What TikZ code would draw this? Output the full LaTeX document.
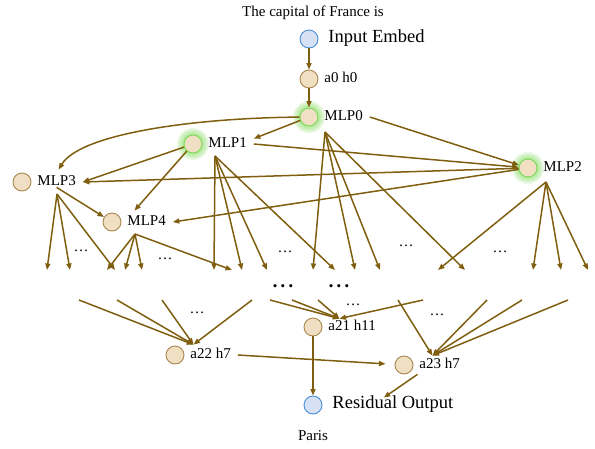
\documentclass[tikz,border=0pt]{standalone}
\usepackage{fontspec}
\setmainfont{Liberation Serif}
\usetikzlibrary{arrows.meta,calc,positioning}
\definecolor{edgebrown}{HTML}{7F5F0F}
\definecolor{unitfill}{HTML}{F1DFC4}
\definecolor{unitline}{HTML}{A8884F}
\definecolor{iofill}{HTML}{D6E1F5}
\definecolor{ioline}{HTML}{4A8FD6}
\definecolor{glowgreen}{HTML}{7ED957}
\pgfdeclarelayer{background}
\pgfsetlayers{background,main}
\tikzset{
  unit/.style={circle,draw=unitline,fill=unitfill,line width=0.9pt,minimum size=18pt,inner sep=0pt},
  iounit/.style={unit,draw=ioline,fill=iofill},
  hot/.style={unit,draw=glowgreen},
  lbl/.style={inner xsep=0pt,inner ysep=2pt,outer xsep=7pt,outer ysep=0pt,
    text height=0.68em,text depth=0pt,font=\fontsize{15}{18}\selectfont},
  biglbl/.style={lbl,font=\fontsize{18.5}{22}\selectfont},
  txt/.style={font=\fontsize{15}{18}\selectfont},
  dots/.style={font=\fontsize{15}{18}\selectfont,inner sep=0pt},
  bdots/.style={font=\fontsize{13}{16}\selectfont,inner sep=0pt},
  edge/.style={draw=edgebrown,line width=1.5pt,-{Triangle[length=6.5pt,width=5pt]}},
}

\begin{document}
\begin{tikzpicture}[x=1pt,y=-1pt]
  \useasboundingbox (0,0) rectangle (595,448);
  % Prompt and input
  \node[txt] (prompt) at (313,13) {The capital of France is};
  \node[iounit] (inp) at (309,39) {};
  \node[biglbl,right=3pt of inp] (inpl) {Input Embed};
  \node[unit] (a0) at (309,79) {};
  \node[lbl,right=-1pt of a0] (a0l) {a0 h0};
  % MLP units
  \node[hot] (mlp0) at (309,117) {};
  \node[lbl,right=-1pt of mlp0] (mlp0l) {MLP0};
  \node[hot] (mlp1) at (193,144) {};
  \node[lbl,right=-1pt of mlp1] (mlp1l) {MLP1};
  \node[hot] (mlp2) at (528,168) {};
  \node[lbl,right=-1pt of mlp2] (mlp2l) {MLP2};
  \node[unit] (mlp3) at (22,182) {};
  \node[lbl,right=-1pt of mlp3] (mlp3l) {MLP3};
  \node[unit] (mlp4) at (112,222) {};
  \node[lbl,right=-1pt of mlp4] (mlp4l) {MLP4};
  % Late heads and output
  \node[unit] (a21) at (313,327) {};
  \node[lbl,right=-1pt of a21] (a21l) {a21 h11};
  \node[unit] (a22) at (175,355) {};
  \node[lbl,right=-1pt of a22] (a22l) {a22 h7};
  \node[unit] (a23) at (404,365) {};
  \node[lbl,right=-1pt of a23] (a23l) {a23 h7};
  \node[iounit] (res) at (313,405) {};
  \node[biglbl,right=3pt of res] (resl) {Residual Output};
  \node[txt] (paris) at (313,436) {Paris};
  % Glow
  \begin{pgfonlayer}{background}
    \foreach \n in {mlp0,mlp1,mlp2}
      \foreach \r in {10,11.5,...,16}
        \fill[glowgreen,opacity=0.17] (\n) circle[radius=\r pt];
  \end{pgfonlayer}
  % Elided parts
  \node[dots] (d1) at (81,251) {\dots};
  \node[dots] (d2) at (165,259) {\dots};
  \node[dots] (d3) at (285,252) {\dots};
  \node[dots] (d4) at (406,246) {\dots};
  \node[dots] (d5) at (500,252) {\dots};
  \node[dots] (d6) at (197,313) {\dots};
  \node[dots] (d7) at (353,305) {\dots};
  \node[dots] (d8) at (437,315) {\dots};
  \node[bdots] (b1) at (283,288) {• • •};
  \node[bdots] (b2) at (339,288) {• • •};
  % Fan origins and loose ends
  \coordinate (f0) at ($(mlp0)+(16,15)$);
  \coordinate (f1) at ($(mlp1)+(22,12)$);
  \coordinate (f2) at ($(mlp2)+(18,14)$);
  \coordinate (f3) at ($(mlp3)+(35,12)$);
  \coordinate (f4) at ($(mlp4)+(23,12)$);
  \foreach \x [count=\i] in {47,70,107,115,125,142,214,232,242,267,313,335,355,380,438,465,533,561,588}
    \coordinate (t\i) at (\x,270);
  \foreach \x [count=\i] in {79,117,162,252,270,292,318,423,398,487,522,568}
    \coordinate (s\i) at (\x,300);
  \coordinate (a22in) at ($(a22l.north west)+(10,-5)$);
  \coordinate (a21in) at ($(a21l.north west)+(18,-3)$);
  \coordinate (a23in) at ($(a23l.north west)+(20,-4)$);
  % Top chain
  \draw[edge] (inp) -- (a0);
  \draw[edge] (a0) -- (mlp0);
  % Between MLPs
  \draw[edge] (mlp0) .. controls +(-120,1) and +(21,-35) .. ($(mlp3l.north)+(2,-7)$);
  \draw[edge] (mlp0) -- (mlp1l.north east);
  \draw[edge] (mlp0l.east) -- (mlp2);
  \draw[edge] (mlp1l.east) -- (mlp2);
  \draw[edge] (mlp1) -- (mlp3l.east);
  \draw[edge] (mlp1) -- ($(mlp4l.north west)+(14,-6)$);
  \draw[edge] (mlp2) -- (mlp3l.east);
  \draw[edge] (mlp2) -- (mlp4l.east);
  \draw[edge] (mlp3l.south) -- (mlp4);
  % Fans
  \foreach \i in {11,13,14,16} \draw[edge] (f0) -- (t\i);
  \foreach \i in {7,9,10,12} \draw[edge] (f1) -- (t\i);
  \foreach \i in {15,17,18,19} \draw[edge] (f2) -- (t\i);
  \foreach \i in {1,2,4} \draw[edge] (f3) -- (t\i);
  \foreach \i in {3,5,6,8} \draw[edge] (f4) -- (t\i);
  % Into late heads
  \foreach \i in {1,...,4} \draw[edge] (s\i) -- (a22in);
  \foreach \i in {5,...,8} \draw[edge] (s\i) -- (a21in);
  \foreach \i in {9,...,12} \draw[edge] (s\i) -- (a23in);
  \draw[edge,shorten >=9pt] (a22l.east) -- (a23);
  \draw[edge] (a21) -- (res);
  \draw[edge] ($(a23l.south west)+(5,4)$) -- ($(resl.north)+(-9,-2)$);
\end{tikzpicture}
\end{document}
